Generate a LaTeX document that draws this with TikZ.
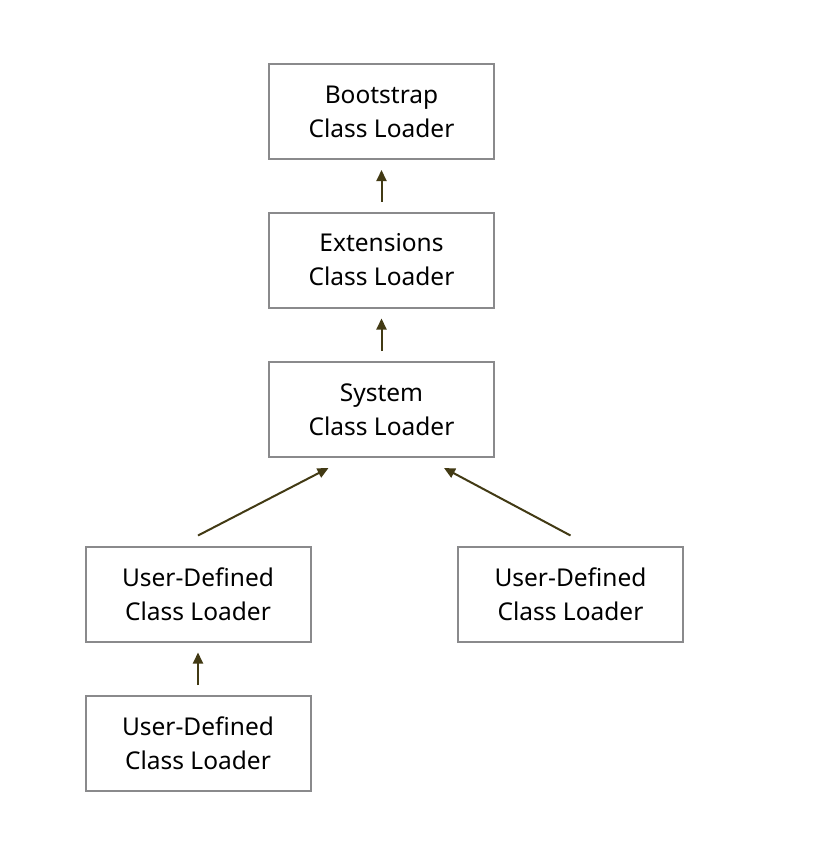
\documentclass[tikz,border=0pt]{standalone}
\usepackage{fontspec}
\setmainfont{Noto Sans}
\usetikzlibrary{positioning,arrows.meta}

\definecolor{boxgray}{RGB}{138,138,140}
\definecolor{arrowolive}{RGB}{66,58,20}

\begin{document}
\begin{tikzpicture}[x=1pt,y=1pt,on grid,
    loader/.style={draw=boxgray,line width=2pt,minimum width=225pt,minimum height=95pt,
      align=center,font=\fontsize{24.5}{34}\selectfont,inner sep=0pt},
    up/.style={draw=arrowolive,line width=2pt,-{Triangle[length=11pt,width=10pt]}}]
   \useasboundingbox (0,0) rectangle (820,-849);
   \node[loader] (boot) at (381.5,-111.5) {Bootstrap\\Class Loader};
   \node[loader] (ext) [below=148.5pt of boot] {Extensions\\Class Loader};
   \node[loader] (sys) [below=149.5pt of ext] {System\\Class Loader};
   \node[loader] (ud1) [below left=184.5pt and 183.5pt of sys] {User-Defined\\Class Loader};
   \node[loader] (ud2) [below right=184.5pt and 189pt of sys] {User-Defined\\Class Loader};
   \node[loader] (ud3) [below=149.5pt of ud1] {User-Defined\\Class Loader};
    \path
    ([yshift=10pt]ext.north) edge[up] ([yshift=-10pt]boot.south)
    ([yshift=10pt]sys.north) edge[up] ([yshift=-10pt]ext.south)
    ([yshift=10pt]ud1.north) edge[up] ([xshift=-53pt,yshift=-10pt]sys.south)
    ([yshift=10pt]ud2.north) edge[up] ([xshift=62.5pt,yshift=-10pt]sys.south)
    ([yshift=10pt]ud3.north) edge[up] ([yshift=-10pt]ud1.south);
\end{tikzpicture}
\end{document}
